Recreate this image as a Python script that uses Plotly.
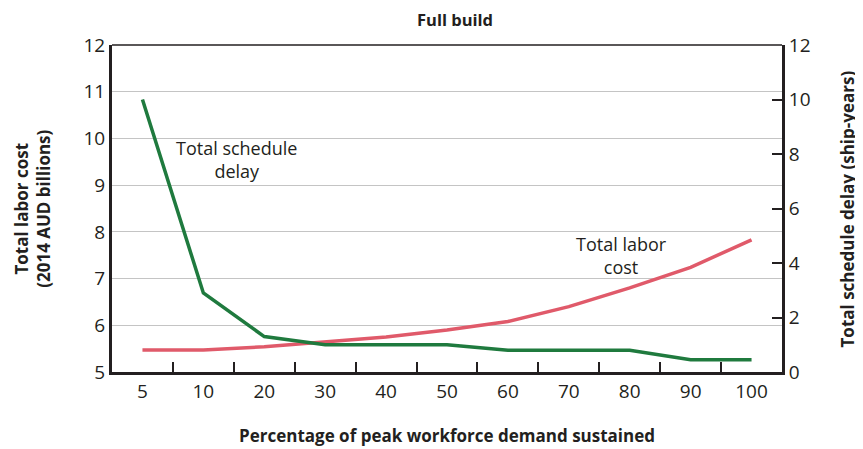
import plotly.graph_objects as go

categories = ["5", "10", "20", "30", "40", "50", "60", "70", "80", "90", "100"]
labor_cost = [5.47, 5.47, 5.54, 5.65, 5.75, 5.9, 6.08, 6.40, 6.80, 7.24, 7.83]
schedule_delay = [10.0, 2.9, 1.3, 1.0, 1.0, 1.0, 0.8, 0.8, 0.8, 0.45, 0.45]

font = "Open Sans"
ink = "#231f20"
red = "#e05a6a"
green = "#1f7a3e"

fig = go.Figure()

fig.add_trace(go.Scatter(x=categories, y=labor_cost, mode="lines",
                         line=dict(color=red, width=3.5), name="Total labor cost"))
fig.add_trace(go.Scatter(x=categories, y=schedule_delay, mode="lines", yaxis="y2",
                         line=dict(color=green, width=3.5), name="Total schedule delay"))

# in-plot labels
fig.add_annotation(x=1.55, y=9.55, xref="x", yref="y", showarrow=False,
                   text="Total schedule<br>delay", font=dict(family=font, size=18, color=ink))
fig.add_annotation(x=7.87, y=7.5, xref="x", yref="y", showarrow=False,
                   text="Total labor<br>cost", font=dict(family=font, size=18, color=ink))

# chart title and axis titles placed by hand
fig.add_annotation(x=0.512, y=1.0765, xref="paper", yref="paper", xanchor="center", yanchor="middle",
                   showarrow=False, text="<b>Full build</b>",
                   font=dict(family=font, size=16.5, color=ink))
fig.add_annotation(x=-0.119, y=0.5, xref="paper", yref="paper", xanchor="center", yanchor="middle",
                   showarrow=False, textangle=-90,
                   text="<b>Total labor cost<br>(2014 AUD billions)</b>",
                   font=dict(family=font, size=17, color=ink))
fig.add_annotation(x=1.0985, y=0.5, xref="paper", yref="paper", xanchor="center", yanchor="middle",
                   showarrow=False, textangle=-90,
                   text="<b>Total schedule delay (ship-years)</b>",
                   font=dict(family=font, size=17, color=ink))
fig.add_annotation(x=0.5, y=-0.193, xref="paper", yref="paper", xanchor="center", yanchor="middle",
                   showarrow=False, text="<b>Percentage of peak workforce demand sustained</b>",
                   font=dict(family=font, size=17, color=ink))

# thin frame line along the top of the plot area
fig.add_shape(type="line", xref="paper", yref="paper", x0=0, x1=1, y0=1, y1=1,
              line=dict(color=ink, width=1.5))

fig.update_layout(
    width=855, height=441,
    margin=dict(l=104, r=81, t=37, b=77, autoexpand=False),
    paper_bgcolor="white", plot_bgcolor="white",
    showlegend=False,
    font=dict(family=font, color=ink),
    xaxis=dict(type="category", range=[-0.5, 10.5], tickson="boundaries", ticks="inside",
               ticklen=10, tickwidth=1.5, tickcolor=ink, automargin=False,
               showline=True, linewidth=3, linecolor=ink, showgrid=False,
               tickfont=dict(family=font, size=19)),
    yaxis=dict(range=[5, 12], dtick=1, showline=True, linewidth=3, linecolor=ink,
               showgrid=True, gridcolor="#c4c4c4", gridwidth=1.2, zeroline=False,
               ticks="", automargin=False, tickfont=dict(family=font, size=19)),
    yaxis2=dict(range=[0, 12], tickvals=[0, 2, 4, 6, 8, 10, 12], overlaying="y", side="right",
                showline=True, linewidth=3, linecolor=ink, showgrid=False, zeroline=False,
                ticks="inside", ticklen=10, tickwidth=1.5, tickcolor=ink, automargin=False,
                tickfont=dict(family=font, size=19)),
)

fig.write_html("out.html")
